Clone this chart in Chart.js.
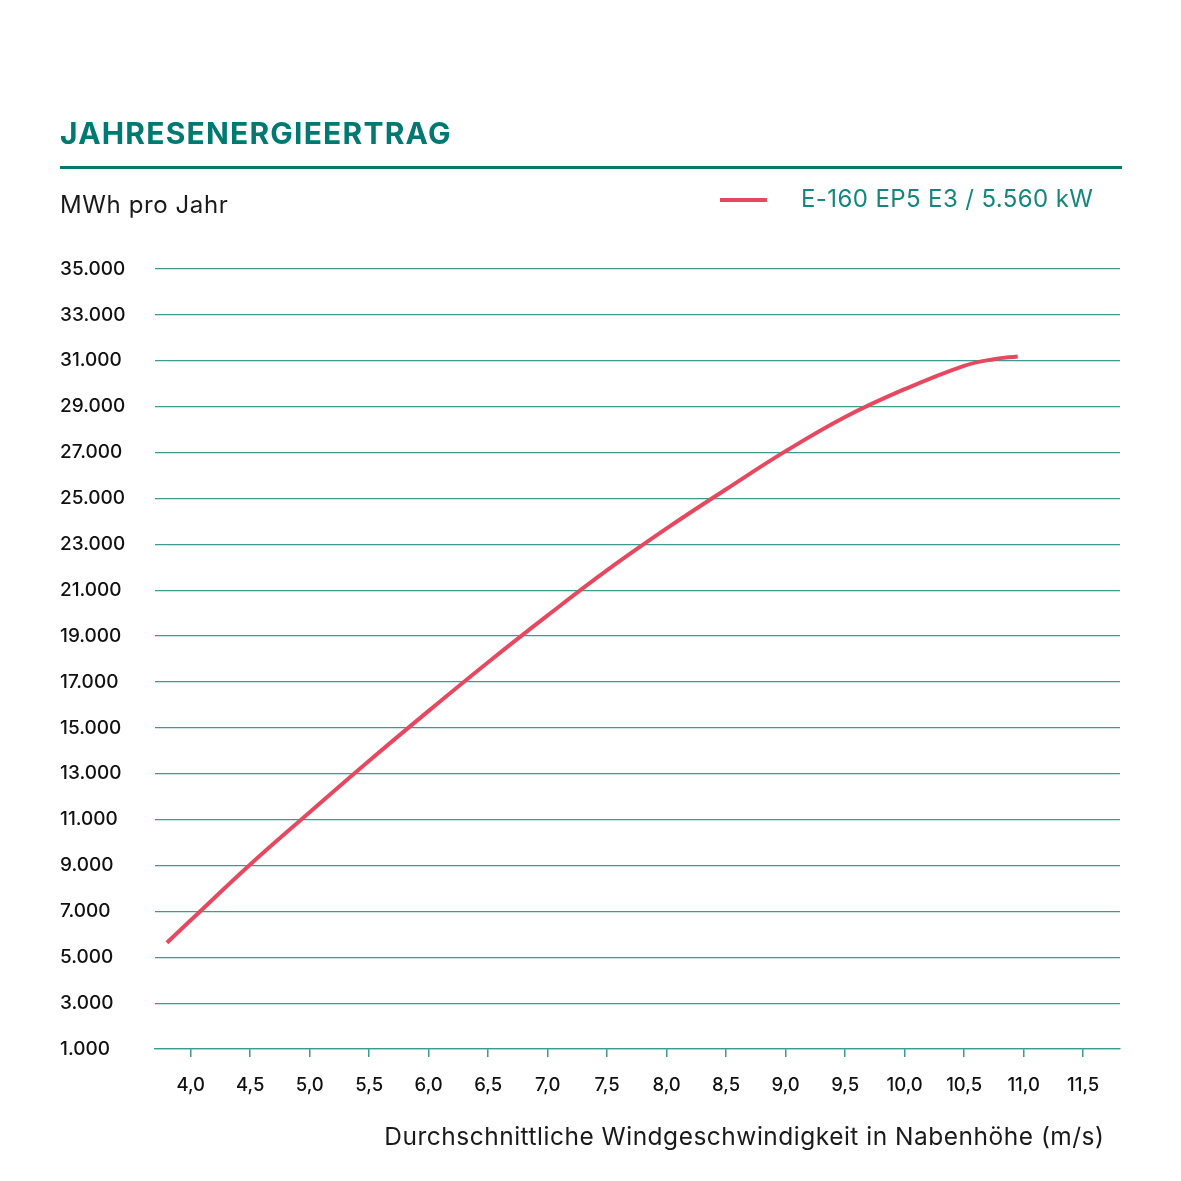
<!DOCTYPE html>
<html>
<head>
<meta charset="utf-8">
<script src="https://cdn.jsdelivr.net/npm/chart.js@4"></script>
<style>
  html, body { margin: 0; padding: 0; background: #fff; }
  body { width: 1181px; height: 1181px; position: relative; overflow: hidden; font-family: Inter, "Noto Sans", sans-serif; }
  #wrap { position: absolute; left: 0; top: 0; width: 1181px; height: 1181px; }
  .title { position: absolute; left: 60px; top: 117.5px; font-size: 30px; font-weight: 700; letter-spacing: 1.2px; color: #007a70; line-height: 1; white-space: nowrap; }
  .rule { position: absolute; left: 60px; top: 166px; width: 1062px; height: 3px; background: #007a70; }
  .unit { position: absolute; left: 60px; top: 193px; font-size: 24px; letter-spacing: 0.6px; color: #1a1a1a; line-height: 1; white-space: nowrap; }
  .legend-sw { position: absolute; left: 720px; top: 198px; width: 47px; height: 4px; background: #e8485f; }
  .legend-txt { position: absolute; left: 801px; top: 187px; font-size: 24px; letter-spacing: 0.4px; color: #13877c; line-height: 1; white-space: nowrap; }
  .xtitle { position: absolute; right: 76.5px; top: 1124px; font-size: 24.5px; letter-spacing: 0.5px; color: #1a1a1a; line-height: 1; white-space: nowrap; }
</style>
</head>
<body>
<div id="wrap"><canvas id="c" width="1181" height="1181"></canvas></div>
<div class="title">JAHRESENERGIEERTRAG</div>
<div class="rule"></div>
<div class="unit">MWh pro Jahr</div>
<div class="legend-sw"></div>
<div class="legend-txt" id="legtext"></div>
<div class="xtitle">Durchschnittliche Windgeschwindigkeit in Nabenhöhe (m/s)</div>
<script>
// ---- data ----
const seriesLabel = "E-160 EP5 E3 / 5.560 kW";
const windSpeeds = [3.8, 4.0, 4.5, 5.0, 5.5, 6.0, 6.5, 7.0, 7.5, 8.0, 8.5, 9.0, 9.5, 10.0, 10.5, 10.75, 10.95];
const energyMWh  = [5630, 6610, 9045, 11320, 13565, 15740, 17860, 19900, 21870, 23690, 25400, 27060, 28550, 29760, 30780, 31070, 31190];
const xTicks = [4.0, 4.5, 5.0, 5.5, 6.0, 6.5, 7.0, 7.5, 8.0, 8.5, 9.0, 9.5, 10.0, 10.5, 11.0, 11.5];
const yTicks = [1000, 3000, 5000, 7000, 9000, 11000, 13000, 15000, 17000, 19000, 21000, 23000, 25000, 27000, 29000, 31000, 33000, 35000];

document.getElementById('legtext').textContent = seriesLabel;

const teal = '#3d9a90';
const points = windSpeeds.map((x, i) => ({ x: x, y: energyMWh[i] }));

new Chart(document.getElementById('c'), {
  type: 'line',
  data: {
    datasets: [{
      label: seriesLabel,
      data: points,
      borderColor: '#e8485f',
      borderWidth: 4,
      pointRadius: 0,
      fill: false,
      tension: 0.4
    }]
  },
  options: {
    responsive: false,
    animation: false,
    devicePixelRatio: 1,
    layout: { padding: { left: 60, right: 61, top: 269, bottom: 72 } },
    plugins: { legend: { display: false }, tooltip: { enabled: false } },
    scales: {
      x: {
        type: 'linear',
        min: 3.7,
        max: 11.81,
        afterBuildTicks: (s) => { s.ticks = xTicks.map(v => ({ value: v })); },
        afterFit: (s) => { s.height = 60; },
        grid: { drawOnChartArea: false, drawTicks: true, tickLength: 8, color: teal, lineWidth: 1.5 },
        border: { display: true, color: teal, width: 1.2 },
        ticks: {
          padding: 17,
          color: '#111',
          font: { family: 'Inter', size: 18.5, weight: '500' },
          callback: (v) => Number(v).toFixed(1).replace('.', ','),
          maxRotation: 0
        }
      },
      y: {
        type: 'linear',
        min: 1000,
        max: 35000,
        afterBuildTicks: (s) => { s.ticks = yTicks.map(v => ({ value: v })); },
        afterFit: (s) => { s.width = 95; },
        grid: { drawTicks: false, color: teal, lineWidth: 1.2 },
        border: { display: false },
        ticks: {
          crossAlign: 'far',
          padding: 10,
          color: '#111',
          font: { family: 'Inter', size: 19, weight: '500' },
          callback: (v) => Number(v).toLocaleString('de-DE')
        }
      }
    }
  }
});
</script>
</body>
</html>
